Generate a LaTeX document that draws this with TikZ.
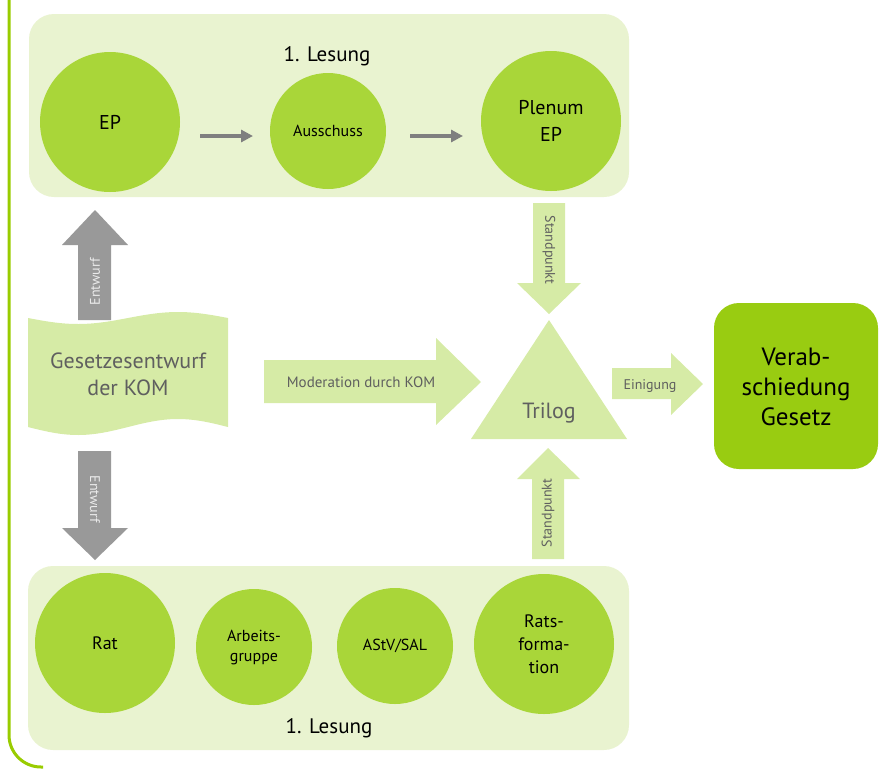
\documentclass[tikz,border=0pt]{standalone}
\usepackage{fontspec}
\setmainfont{PT Sans}
\usetikzlibrary{arrows.meta}
\definecolor{panelgreen}{HTML}{E9F3D0}
\definecolor{circgreen}{HTML}{A9D639}
\definecolor{litegreen}{HTML}{D6EBA6}
\definecolor{finalgreen}{HTML}{99CC11}
\definecolor{bordergreen}{HTML}{99CC00}
\definecolor{arrgray}{HTML}{999999}
\definecolor{smallgray}{HTML}{7F7F7F}
\definecolor{txtgray}{HTML}{5F5F5F}
\newcommand\fsz[2]{\fontsize{#1}{#2}\selectfont}
\begin{document}
\begin{tikzpicture}[x=1pt,y=-1pt,
  circ/.style={circle,fill=circgreen,inner sep=0pt,align=center,text=black},
  bigc/.style={circ,minimum size=140pt,font=\fsz{20}{27}},
  bigr/.style={circ,minimum size=140pt,font=\fsz{18}{23}},
  smallc/.style={circ,minimum size=116pt,font=\fsz{16}{20}},
  panelbox/.style={fill=panelgreen,rounded corners=25pt},
  lite/.style={fill=litegreen},
  grayarr/.style={fill=arrgray},
  smallarr/.style={draw=smallgray,line width=4pt,-{Triangle[length=12pt,width=12pt]}},
  lbl/.style={text=txtgray,inner sep=0pt},
  wlbl/.style={text=white!92!black,inner sep=0pt,font=\fsz{14}{16}},
]
\useasboundingbox (0,0) rectangle (879,769);
% left bracket line
\draw[bordergreen,line width=3pt,rounded corners=32pt] (9,-2) -- (9,767) -- (43,767);
% panels
\fill[panelbox] (29,14) rectangle (629,197);
\fill[panelbox] (28,566) rectangle (629,750);
\node[inner sep=0pt,anchor=base,font=\fsz{21}{24}] (les1) at (327,61) {1. Lesung};
\node[inner sep=0pt,anchor=base,font=\fsz{21}{24}] (les2) at (329,733) {1. Lesung};
% top circles
\node[bigc] (ep) at (110,122) {EP};
\node[smallc,font=\fsz{16}{20}] (aus) at (328,131) {Ausschuss};
\node[bigc] (plen) at (551,121) {Plenum\\EP};
\coordinate (a1s) at (200,136); \coordinate (a1e) at (253,136);
\coordinate (a2s) at (410,136); \coordinate (a2e) at (463,136);
\draw[smallarr] (a1s) -- (a1e);
\draw[smallarr] (a2s) -- (a2e);
% bottom circles
\node[bigr] (rat) at (105,643) {Rat};
\node[smallc] (ag) at (254,647) {Arbeits-\\gruppe};
\node[smallc] (astv) at (395,646) {AStV/SAL};
\node[bigr] (rf) at (544,644) {Rats-\\forma-\\tion};
% Gesetzesentwurf tape shape
\fill[lite] plot[domain=28:228,samples=60] (\x,{318+6*sin(1.8*(\x-28))})
  -- plot[domain=228:28,samples=60] (\x,{427+8*sin(1.8*(\x-28))}) -- cycle;
\node[lbl,align=center,font=\fsz{22}{27}] (kom) at (128,374) {Gesetzesentwurf\\der KOM};
% Entwurf arrows
\fill[grayarr] (78,320) -- (78,245) -- (62,245) -- (95,210) -- (128,245) -- (111,245) -- (111,320) -- cycle;
\node[wlbl,rotate=90] (ent1) at (95,282) {Entwurf};
\fill[grayarr] (78,451) -- (78,528) -- (62,528) -- (95,560) -- (128,528) -- (111,528) -- (111,451) -- cycle;
\node[wlbl,rotate=-90] (ent2) at (95,499) {Entwurf};
% Standpunkt arrows
\fill[lite] (533,203) -- (533,283) -- (517,283) -- (549,314) -- (581,283) -- (565,283) -- (565,203) -- cycle;
\node[lbl,rotate=-90,font=\fsz{14}{16}] (sp1) at (549,250) {Standpunkt};
\fill[lite] (532,559) -- (532,479) -- (517,479) -- (548,448) -- (580,479) -- (564,479) -- (564,559) -- cycle;
\node[lbl,rotate=90,font=\fsz{14}{16}] (sp2) at (548,513) {Standpunkt};
% Moderation arrow
\fill[lite] (264,360) -- (436,360) -- (436,338) -- (481,382) -- (436,425) -- (436,403) -- (264,403) -- cycle;
\node[lbl,anchor=base,font=\fsz{15}{18}] (mod) at (361,387) {Moderation durch KOM};
% Trilog
\fill[lite] (549,320) -- (627,439) -- (471,439) -- cycle;
\node[lbl,anchor=base,font=\fsz{22}{26}] (tri) at (549,418) {Trilog};
% Einigung arrow
\fill[lite] (612,368) -- (671,368) -- (671,353) -- (703,384) -- (671,415) -- (671,399) -- (612,399) -- cycle;
\node[lbl,anchor=base,font=\fsz{14}{16}] (ein) at (650,389) {Einigung};
% final box
\fill[finalgreen,rounded corners=25pt] (714,303) rectangle (878,469);
\node[align=center,inner sep=0pt,font=\fsz{25}{30}] (ver) at (796,387) {Verab-\\schiedung\\Gesetz};
\end{tikzpicture}
\end{document}
